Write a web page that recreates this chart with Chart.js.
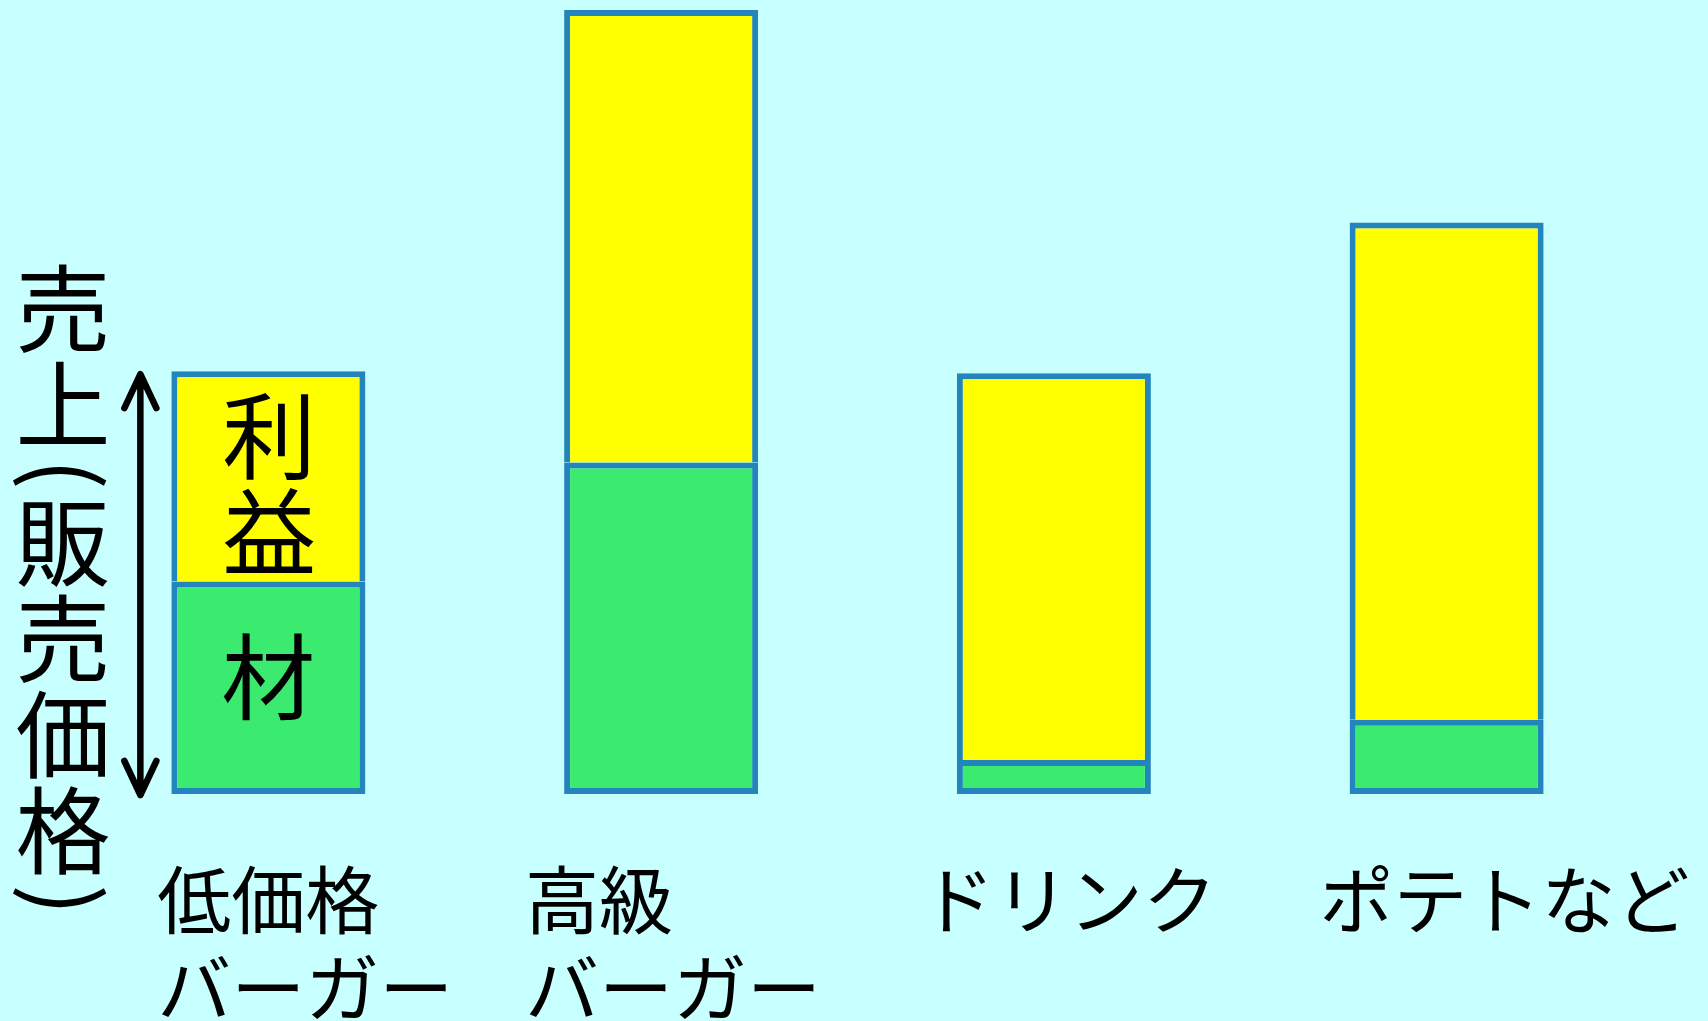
<!DOCTYPE html>
<html lang="ja">
<head>
<meta charset="utf-8">
<title>売上（販売価格）の内訳</title>
<script src="https://cdn.jsdelivr.net/npm/chart.js@4.4.1/dist/chart.umd.min.js"></script>
<style>
  html, body { margin: 0; padding: 0; background: #c8ffff; }
  #wrap { position: relative; width: 1708px; height: 1021px; }
</style>
</head>
<body>
<div id="wrap"><canvas id="chart"></canvas></div>
<script>
// categories (one entry per line of the label)
const categoryLines = [
  ['低価格', 'バーガー'],
  ['高級', 'バーガー'],
  ['ドリンク'],
  ['ポテトなど']
];
// bar segments (same unit for both)
const materialCost = [50, 78, 8, 17.5];
const profit = [49.5, 106.5, 91, 117];
// vertical axis title, one glyph per row
const axisTitle = ['売', '上', '(', '販', '売', '価', '格', ')'];
const materialText = ['材'];
const profitText = ['利', '益'];

const FONT = '"Noto Sans CJK JP", "Noto Sans", sans-serif';
const BORDER = '#2484bc';

// left edge of each category label, relative to the bar's left edge
const labelShift = [-14, -39, -36, -30];

function drawChar(ctx, ch, x, cy, size) {
  ctx.font = size + 'px ' + FONT;
  ctx.textAlign = 'center';
  ctx.textBaseline = 'alphabetic';
  ctx.fillText(ch, x, cy + size * 0.38);
}

const annotations = {
  id: 'annotations',
  afterDatasetsDraw(chart) {
    const ctx = chart.ctx;
    const mat = chart.getDatasetMeta(0).data;
    const pro = chart.getDatasetMeta(1).data;
    ctx.save();
    ctx.fillStyle = '#000';

    // text inside the first bar
    const b0 = pro[0].getProps(['x', 'y', 'base'], true);
    const g0 = mat[0].getProps(['x', 'y', 'base', 'width'], true);
    const pMid = (b0.y + b0.base) / 2 + 8;
    profitText.forEach((ch, i) => {
      drawChar(ctx, ch, b0.x + 1, pMid + (i - (profitText.length - 1) / 2) * 96, 94);
    });
    const mMid = (g0.y + g0.base) / 2 - 10;
    materialText.forEach(ch => drawChar(ctx, ch, g0.x, mMid, 94));

    // double-headed arrow spanning the first bar's price
    const ax = g0.x - g0.width / 2 - 31;
    const top = b0.y + 3, bottom = g0.base + 1;
    ctx.strokeStyle = '#000';
    ctx.lineWidth = 6.5;
    ctx.lineCap = 'round';
    ctx.lineJoin = 'round';
    ctx.beginPath();
    ctx.moveTo(ax, top + 4);
    ctx.lineTo(ax, bottom - 4);
    ctx.moveTo(ax - 16, top + 34);
    ctx.lineTo(ax, top);
    ctx.lineTo(ax + 16, top + 34);
    ctx.moveTo(ax - 16, bottom - 34);
    ctx.lineTo(ax, bottom);
    ctx.lineTo(ax + 16, bottom - 34);
    ctx.stroke();

    // vertical axis title
    let y = 309;
    const pitch = 96, half = 21;
    axisTitle.forEach((ch, i) => {
      const paren = ch === '(' || ch === ')';
      if (i > 0) {
        const prevParen = axisTitle[i - 1] === '(' || axisTitle[i - 1] === ')';
        y += (prevParen ? half : pitch / 2) + (paren ? half : pitch / 2);
      }
      if (paren) {
        ctx.save();
        ctx.translate(62, y);
        ctx.rotate(Math.PI / 2);
        ctx.font = '92px ' + FONT;
        ctx.textAlign = 'center';
        ctx.textBaseline = 'alphabetic';
        ctx.fillText(ch, 0, 92 * 0.34);
        ctx.restore();
      } else {
        drawChar(ctx, ch, 63, y, 95);
      }
    });

    // category labels, left aligned under each bar
    ctx.font = '74px ' + FONT;
    ctx.textAlign = 'left';
    ctx.textBaseline = 'alphabetic';
    categoryLines.forEach((lines, i) => {
      const bar = mat[i].getProps(['x', 'width'], true);
      const left = bar.x - bar.width / 2 + labelShift[i];
      lines.forEach((txt, j) => {
        ctx.fillText(txt, left, 900 + j * 88 + 74 * 0.38);
      });
    });
    ctx.restore();
  }
};

new Chart(document.getElementById('chart'), {
  type: 'bar',
  data: {
    labels: categoryLines,
    datasets: [
      {
        label: '材料費',
        data: materialCost,
        backgroundColor: '#3beb70',
        borderColor: BORDER,
        borderWidth: 6,
        borderSkipped: false
      },
      {
        label: '利益',
        data: profit,
        backgroundColor: '#ffff00',
        borderColor: BORDER,
        borderWidth: 6,
        borderSkipped: 'bottom'
      }
    ]
  },
  options: {
    responsive: true,
    maintainAspectRatio: false,
    animation: false,
    devicePixelRatio: 1,
    layout: { padding: { left: 72, right: 65, top: 3.5, bottom: 227 } },
    datasets: { bar: { barPercentage: 0.494, categoryPercentage: 1 } },
    plugins: {
      legend: { display: false },
      tooltip: { enabled: false }
    },
    scales: {
      x: { stacked: true, display: false },
      y: { stacked: true, display: false, min: 0, max: 186 }
    }
  },
  plugins: [annotations]
});
</script>
</body>
</html>
